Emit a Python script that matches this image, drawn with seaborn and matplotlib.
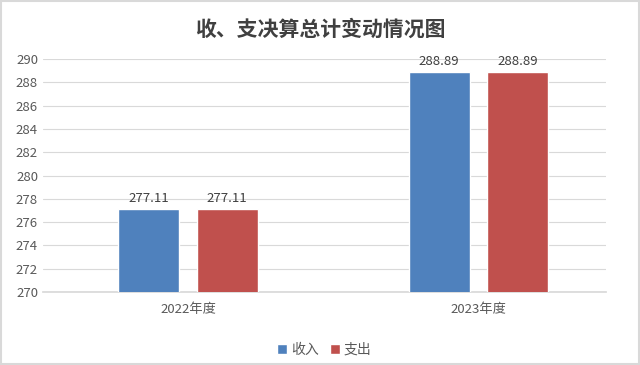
import pandas as pd
import seaborn as sns
import matplotlib.pyplot as plt

years = ["2022年度", "2023年度"]
series = ["收入", "支出"]
income = [277.11, 288.89]
expense = [277.11, 288.89]

df = pd.DataFrame({
    "year": years * 2,
    "kind": [series[0]] * 2 + [series[1]] * 2,
    "value": income + expense,
})

sns.set_theme(style="white")
plt.rcParams["font.family"] = ["Noto Sans CJK SC", "DejaVu Sans"]

fig = plt.figure(figsize=(6.4, 3.65), dpi=100)
ax = fig.add_axes([0.067, 0.2, 0.88, 0.638])

sns.barplot(data=df, x="year", y="value", hue="kind",
            palette=["#4F81BD", "#C0504D"], width=0.54, gap=0.22,
            saturation=1, ax=ax, zorder=3)

for c in ax.containers:
    ax.bar_label(c, fmt="%.2f", padding=3, fontsize=9.5, color="#404040")

ax.set_ylim(270, 290)
ax.set_yticks(range(270, 291, 2))
ax.set_xlim(-0.5, 1.44)
ax.yaxis.grid(True, color="#d9d9d9", linewidth=0.8, zorder=0)
for s in ["top", "right", "left"]:
    ax.spines[s].set_visible(False)
ax.spines["bottom"].set_color("#d9d9d9")
ax.tick_params(axis="both", length=0, labelsize=9.5, colors="#595959")
ax.tick_params(axis="x", pad=8)
ax.set_xlabel("")
ax.set_ylabel("")

ax.legend(loc="upper center", bbox_to_anchor=(0.5, -0.165), ncol=2, frameon=False,
          fontsize=10, handlelength=0.7, handleheight=0.7, handletextpad=0.3,
          columnspacing=0.8, labelcolor="#595959")

fig.suptitle("收、支决算总计变动情况图", y=0.95, fontsize=15, fontweight="bold",
             color="#404040")

fig.patches.append(plt.Rectangle((0.002, 0.002), 0.996, 0.994, transform=fig.transFigure,
                                 fill=False, edgecolor="#d9d9d9", linewidth=1.5))

fig.savefig("out.png", dpi=100)
